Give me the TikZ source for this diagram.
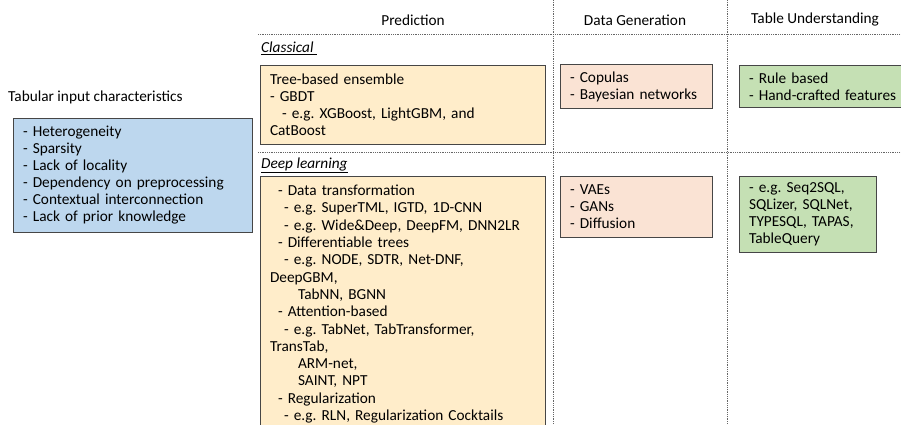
\documentclass[tikz,border=0pt]{standalone}
\usepackage{fontspec}
\setmainfont{Carlito}
\frenchspacing
\definecolor{bluefill}{RGB}{189,215,238}
\definecolor{yellowfill}{RGB}{255,237,202}
\definecolor{peachfill}{RGB}{250,227,212}
\definecolor{greenfill}{RGB}{197,224,180}
\definecolor{edgegray}{RGB}{70,70,70}
\newcommand{\fs}{\fontsize{15.3}{17}\selectfont}
\newcommand{\fsdeep}{\fontsize{15.3}{17.3}\selectfont}
\newcommand{\ind}[1]{\hspace*{#1pt}}
\tikzset{
  box/.style={draw=edgegray, line width=1.1pt, anchor=north west, align=left,
    inner xsep=9.5pt, inner ysep=0pt, font=\fs},
  head/.style={font=\fs, inner sep=0pt},
  sec/.style={font=\fs\itshape, inner sep=0pt, anchor=west},
  sep/.style={draw=black!60, densely dotted, line width=0.8pt}
}
\begin{document}
\begin{tikzpicture}[x=1pt,y=-1pt]
\useasboundingbox (0,0) rectangle (901,425);
\clip (0,0) rectangle (901,425);

% separators
\coordinate (v1t) at (553,0); \coordinate (v1b) at (553,425);
\coordinate (v2t) at (727,0); \coordinate (v2b) at (727,425);
\coordinate (h1l) at (258,34); \coordinate (h1r) at (901,34);
\coordinate (h2l) at (258,152); \coordinate (h2r) at (901,152);
\draw[sep] (v1t) -- (v1b);
\draw[sep] (v2t) -- (v2b);
\draw[sep] (h1l) -- (h1r);
\draw[sep] (h2l) -- (h2r);

% headers
\node[head] (hpred) at (413,20) {Prediction};
\node[head] (hgen) at (635,20) {Data Generation};
\node[head] (hund) at (815,20) {Table Understanding};

\node[sec] (cls) at (261,48) {\underline{Classical\ }};
\node[sec] (dl) at (261,165) {\underline{Deep learning}};

% left
\node[head, anchor=west] (tic) at (8,97) {Tabular input characteristics};
\node[box, fill=bluefill, text width=220pt, minimum height=114pt] (blue) at (13,118)
{- Heterogeneity\\
- Sparsity\\
- Lack of locality\\
- Dependency on preprocessing\\
- Contextual interconnection\\
- Lack of prior knowledge};

% prediction
\node[box, fill=yellowfill, text width=266pt, minimum height=79pt] (tree) at (260,65)
{Tree-based ensemble\\
- GBDT\\
\ind{12}- e.g. XGBoost, LightGBM, and\\
CatBoost};

\node[box, fill=yellowfill, text width=266pt, inner ysep=8.5pt, font=\fsdeep] (deep) at (260,176)
{\ind{8}- Data transformation\\
\ind{14}- e.g. SuperTML, IGTD, 1D-CNN\\
\ind{14}- e.g. Wide\&Deep, DeepFM, DNN2LR\\
\ind{8}- Differentiable trees\\
\ind{14}- e.g. NODE, SDTR, Net-DNF,\\
DeepGBM,\\
\ind{28}TabNN, BGNN\\
\ind{8}- Attention-based\\
\ind{14}- e.g. TabNet, TabTransformer,\\
TransTab,\\
\ind{28}ARM-net,\\
\ind{28}SAINT, NPT\\
\ind{8}- Regularization\\
\ind{14}- e.g. RLN, Regularization Cocktails\rule[-20pt]{0pt}{1pt}};

% generation
\node[box, fill=peachfill, text width=133pt, minimum height=44pt] (cop) at (560,64)
{- Copulas\\
- Bayesian networks};
\node[box, fill=peachfill, text width=133pt, minimum height=61pt] (vae) at (560,176)
{- VAEs\\
- GANs\\
- Diffusion};

% understanding
\node[box, fill=greenfill, text width=170pt, minimum height=42pt] (rule) at (739,65)
{- Rule based\\
- Hand-crafted features};
\node[box, fill=greenfill, text width=118pt, minimum height=76pt] (seq) at (739,176)
{- e.g. Seq2SQL,\\
SQLizer, SQLNet,\\
TYPESQL, TAPAS,\\
TableQuery};
\end{tikzpicture}
\end{document}
